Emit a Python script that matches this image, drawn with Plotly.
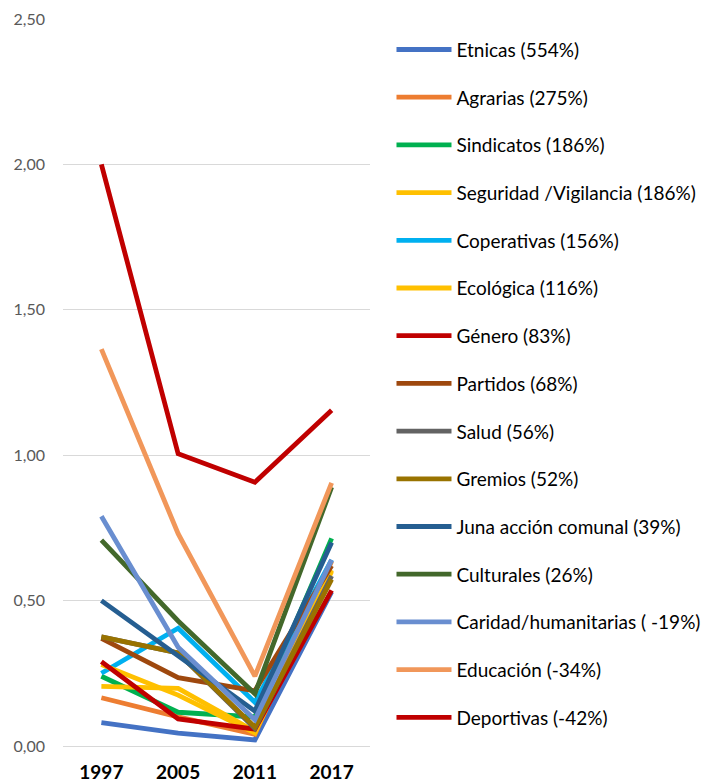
import plotly.graph_objects as go

years = ["1997", "2005", "2011", "2017"]

names = [
    "Etnicas (554%)", "Agrarias (275%)", "Sindicatos (186%)",
    "Seguridad /Vigilancia (186%)", "Coperativas (156%)", "Ecológica (116%)",
    "Género (83%)", "Partidos (68%)", "Salud (56%)", "Gremios (52%)",
    "Juna acción comunal (39%)", "Culturales (26%)",
    "Caridad/humanitarias ( -19%)", "Educación (-34%)", "Deportivas (-42%)",
]

etnicas = [0.080, 0.044, 0.021, 0.530]
agrarias = [0.166, 0.100, 0.040, 0.635]
sindicatos = [0.240, 0.116, 0.100, 0.714]
seguridad = [0.205, 0.198, 0.050, 0.600]
coperativas = [0.250, 0.405, 0.150, 0.640]
ecologica = [0.280, 0.175, 0.045, 0.605]
genero = [0.290, 0.093, 0.058, 0.535]
partidos = [0.370, 0.235, 0.190, 0.620]
salud = [0.375, 0.320, 0.060, 0.585]
gremios = [0.375, 0.320, 0.065, 0.573]
juna = [0.500, 0.310, 0.120, 0.700]
culturales = [0.708, 0.430, 0.180, 0.890]
caridad = [0.790, 0.340, 0.090, 0.640]
educacion = [1.365, 0.730, 0.240, 0.905]
deportivas = [2.000, 1.005, 0.907, 1.155]

series = [etnicas, agrarias, sindicatos, seguridad, coperativas, ecologica,
          genero, partidos, salud, gremios, juna, culturales, caridad,
          educacion, deportivas]

colors = ["#4472C4", "#ED7D31", "#00B050", "#FFC000", "#00B0F0", "#FFC000",
          "#C00000", "#9E480E", "#636363", "#997300", "#255E91", "#43682B",
          "#698ED0", "#F1975A", "#C00000"]

fig = go.Figure()
for i, (n, v, c) in enumerate(zip(names, series, colors)):
    fig.add_trace(go.Scatter(
        x=years, y=v, name=n, mode="lines",
        line=dict(color=c, width=4.8),
        legendgroup="g%d" % i,
    ))

fig.update_layout(
    width=712, height=784,
    margin=dict(l=63, r=342, t=19, b=38, autoexpand=False),
    paper_bgcolor="white", plot_bgcolor="white",
    separators=",.",
    font=dict(family="Lato, 'Open Sans', sans-serif", color="#000000"),
    showlegend=True,
    legend=dict(
        x=1.07, y=0.984, xanchor="left", yanchor="top",
        font=dict(size=19, color="#000000"),
        tracegroupgap=20, itemwidth=55,
        bgcolor="rgba(0,0,0,0)",
    ),
    xaxis=dict(
        type="category", range=[-0.5, 3.5],
        showgrid=False, showline=False, ticks="",
        tickfont=dict(size=19, color="#000000", family="Lato, sans-serif", weight="bold"),
        ticklabelstandoff=13, automargin=False,
    ),
    yaxis=dict(
        range=[0, 2.5], dtick=0.5, tickformat=".2f",
        showgrid=True, gridcolor="#D9D9D9", gridwidth=1,
        zeroline=True, zerolinecolor="#D9D9D9", zerolinewidth=1,
        showline=False, ticks="",
        tickfont=dict(size=16, color="#595959"),
        ticklabelstandoff=17, automargin=False,
    ),
)

fig.write_html("out.html", config={"displayModeBar": False},
               post_script="document.body.style.margin='0';")
